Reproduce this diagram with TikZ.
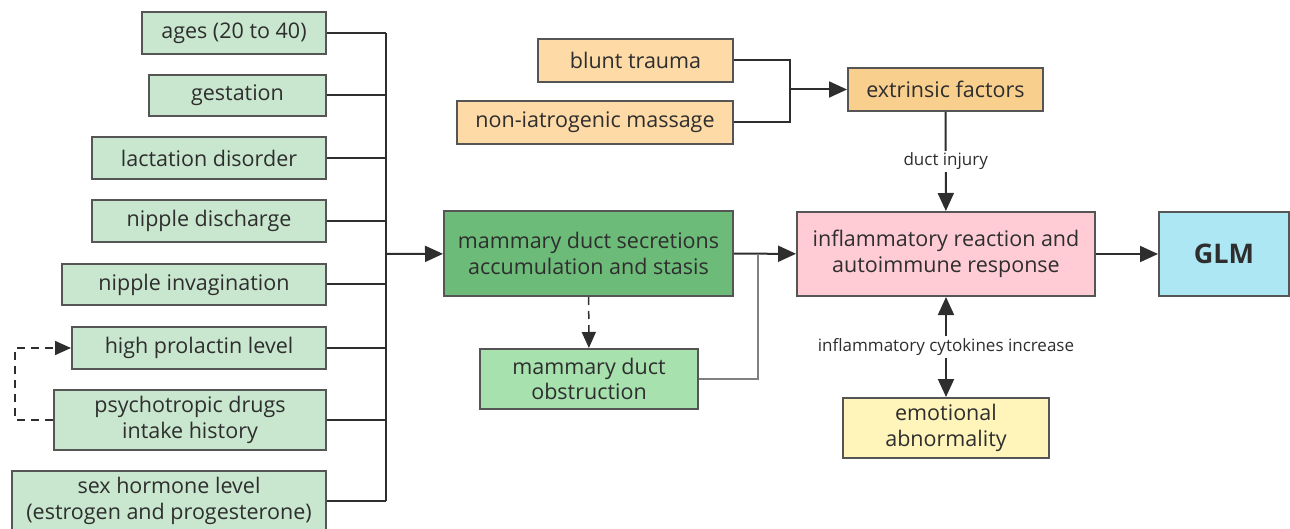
\documentclass[tikz,border=0pt]{standalone}
\usepackage{fontspec}
\setmainfont{Open Sans}
\usetikzlibrary{arrows.meta}

\definecolor{factorgreen}{HTML}{C8E7CE}
\definecolor{darkgreen}{HTML}{6DBB79}
\definecolor{midgreen}{HTML}{A6E1AE}
\definecolor{lightorange}{HTML}{FDDAA6}
\definecolor{midorange}{HTML}{F9CF8E}
\definecolor{lightpink}{HTML}{FFCCD5}
\definecolor{lightblue}{HTML}{ACE7F3}
\definecolor{lightyellow}{HTML}{FFF5BA}
\definecolor{boxline}{HTML}{555555}
\definecolor{ink}{HTML}{2E2E2E}

\begin{document}
\begin{tikzpicture}
[x=1pt,y=-1pt,
 box/.style={draw=boxline,line width=2pt,inner sep=0pt,align=center,text=ink,font=\fontsize{21.5}{25.5}\selectfont},
 factor/.style={box,fill=factorgreen},
 outside/.style={box,fill=lightorange},
 link/.style={draw=ink,line width=2pt},
 arrow/.style={link,-{Triangle[length=18pt,width=16pt]}},
 note/.style={fill=white,inner sep=2pt,text=ink,font=\fontsize{17}{20}\selectfont}]

\useasboundingbox (0,0) rectangle (1290,529);

% left side factors
\node (ages) at (234,33) [factor,minimum width=184,minimum height=42] {ages (20 to 40)};
\node (gest) at (237.5,95.5) [factor,minimum width=177,minimum height=41] {gestation};
\node (lact) at (209,158) [factor,minimum width=234,minimum height=42] {lactation disorder};
\node (disc) at (209,221) [factor,minimum width=234,minimum height=42] {nipple discharge};
\node (inva) at (194,284.5) [factor,minimum width=264,minimum height=41] {nipple invagination};
\node (prol) at (199,348) [factor,minimum width=254,minimum height=42] {high prolactin level};
\node (drug) at (190,420) [factor,minimum width=272,minimum height=60] {psychotropic drugs\\intake history};
\node (horm) at (169,501) [factor,minimum width=314,minimum height=60] {sex hormone level\\(estrogen and progesterone)};

% extrinsic side
\node (blunt) at (635.5,60.5) [outside,minimum width=195,minimum height=43] {blunt trauma};
\node (mass) at (595,122.5) [outside,minimum width=276,minimum height=43] {non-iatrogenic massage};
\node (extr) at (945.5,89.5) [box,fill=midorange,minimum width=195,minimum height=43] {extrinsic factors};

% middle and right
\node (secr) at (588.5,253.5) [box,fill=darkgreen,minimum width=289,minimum height=85] {mammary duct secretions\\accumulation and stasis};
\node (obst) at (589,379) [box,fill=midgreen,minimum width=218,minimum height=60] {mammary duct\\obstruction};
\node (infl) at (946,254) [box,fill=lightpink,minimum width=298,minimum height=84] {inflammatory reaction and\\autoimmune response};
\node (glm) at (1224,254) [box,fill=lightblue,minimum width=130,minimum height=84,font=\fontsize{27}{32}\selectfont\bfseries] {GLM};
\node (emo) at (946,428) [box,fill=lightyellow,minimum width=206,minimum height=60] {emotional\\abnormality};

\coordinate (bus) at (386,254);
\coordinate (join) at (790,89.5);
\coordinate (tap) at (758,254);

\foreach \f in {ages,gest,lact,disc,inva,prol,drug,horm}
  \draw[link] (\f.east) -- (\f.east -| bus);
\draw[link] (ages.east -| bus) -- (horm.east -| bus);
\draw[arrow] (bus) -- (secr);

\draw[draw=ink,line width=1.5pt,dash pattern=on 8pt off 6pt,-{Triangle[length=16pt,width=14pt]}]
  (drug.west) -- ++(-38,0) |- (prol.west);
\draw[draw=ink,line width=1.5pt,dash pattern=on 8pt off 6pt,-{Triangle[length=16pt,width=14pt]}]
  (secr) -- (obst);

\draw[link] (blunt.east) -| (join);
\draw[link] (mass.east) -| (join);
\draw[arrow] (join) -- (extr);

\draw[arrow] (extr) -- (infl) node (inj) [midway,note] {duct injury};
\draw[arrow] (secr) -- (infl);
\draw[draw=gray,line width=1.2pt] (obst.east) -| (tap);
\draw[arrow] (infl) -- (glm);
\draw[link,{Triangle[length=18pt,width=16pt]}-{Triangle[length=18pt,width=16pt]}] (infl) -- (emo)
  node (cyto) [pos=0.5,note] {inflammatory cytokines increase};
\end{tikzpicture}
\end{document}
